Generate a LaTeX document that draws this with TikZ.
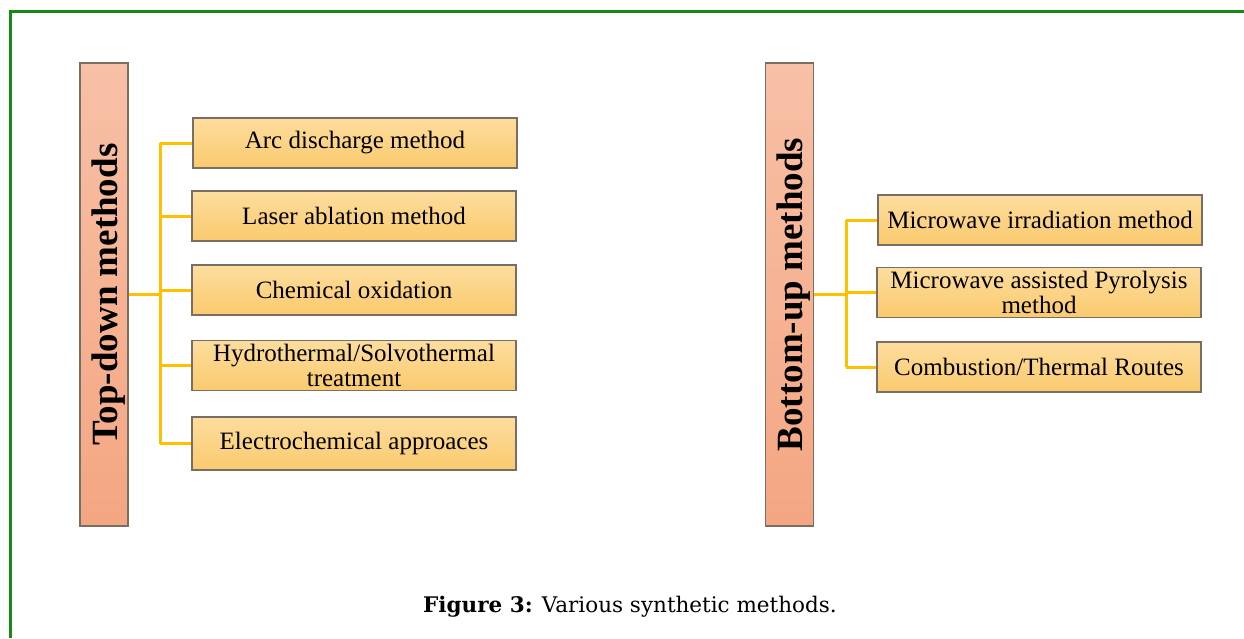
\documentclass[tikz,border=0pt]{standalone}
\usepackage{fontspec}
\setmainfont{Liberation Serif}
\newfontfamily\captionfont{DejaVu Serif}
\usetikzlibrary{positioning,calc}
\definecolor{framegreen}{RGB}{20,138,20}
\definecolor{linkorange}{RGB}{255,192,0}
\definecolor{barlight}{RGB}{248,192,166}
\definecolor{bardark}{RGB}{244,166,130}
\definecolor{boxlight}{RGB}{253,221,158}
\definecolor{boxdark}{RGB}{250,202,110}
\definecolor{edgegray}{RGB}{120,110,100}

\tikzset{
  methodbar/.style={draw=edgegray, line width=1.2pt,
    top color=barlight, bottom color=bardark,
    minimum width=48, minimum height=463, inner sep=0pt},
  bartext/.style={rotate=90, font=\fontsize{37}{40}\selectfont\bfseries},
  methodbox/.style={draw=edgegray, line width=1.2pt,
    top color=boxlight, bottom color=boxdark,
    minimum width=324, minimum height=50, inner sep=1pt, align=center,
    font=\fontsize{25}{25}\selectfont},
  link/.style={linkorange, line width=3pt}
}

\begin{document}
\begin{tikzpicture}[x=1pt, y=-1pt]
        \useasboundingbox (0,0) rectangle (1244,638);
        % Draw frame
        \draw[framegreen, line width=3pt] (10,638) -- (10,11) -- (1244,11);
        % Top-down side
        \node[methodbar] (tdbar) at (104,294.5) {};
        \node[bartext] (tdlabel) at (108.5,294.5) {Top-down methods};
        \coordinate (tdfork) at (160,294.5);
        \node[methodbox] (td1) at (355,143) {Arc discharge method};
        \node[methodbox] (td2) at (354,216) {Laser ablation method};
        \node[methodbox] (td3) at (354,290) {Chemical oxidation};
        \node[methodbox] (td4) at (354,365.5) {Hydrothermal/Solvothermal\\treatment};
        \node[methodbox, minimum height=53] (td5) at (354,443.5) {Electrochemical approaces};
        % Bottom-up side
        \node[methodbar] (bubar) at (789.5,294.5) {};
        \node[bartext] (bulabel) at (793.5,294.5) {Bottom-up methods};
        \coordinate (bufork) at (846,294.5);
        \node[methodbox] (bu1) at (1040,220) {Microwave irradiation method};
        \node[methodbox] (bu2) at (1039,292.5) {Microwave assisted Pyrolysis\\method};
        \node[methodbox] (bu3) at (1039,367) {Combustion/Thermal Routes};
        % Connectors
        \draw[link] (tdbar.east) -- (tdfork);
        \draw[link] (tdfork |- td1.west) -- (tdfork |- td5.west);
        \foreach \i in {1,...,5}
          \draw[link] (tdfork |- td\i.west) -- (td\i.west);
        \draw[link] (bubar.east) -- (bufork);
        \draw[link] (bufork |- bu1.west) -- (bufork |- bu3.west);
        \foreach \i in {1,2,3}
          \draw[link] (bufork |- bu\i.west) -- (bu\i.west);
        % Caption
        \node[font=\captionfont\fontsize{21.5}{24}\selectfont] (caption) at (630,607)
          {\textbf{Figure 3:} Various synthetic methods.};
\end{tikzpicture}
\end{document}
